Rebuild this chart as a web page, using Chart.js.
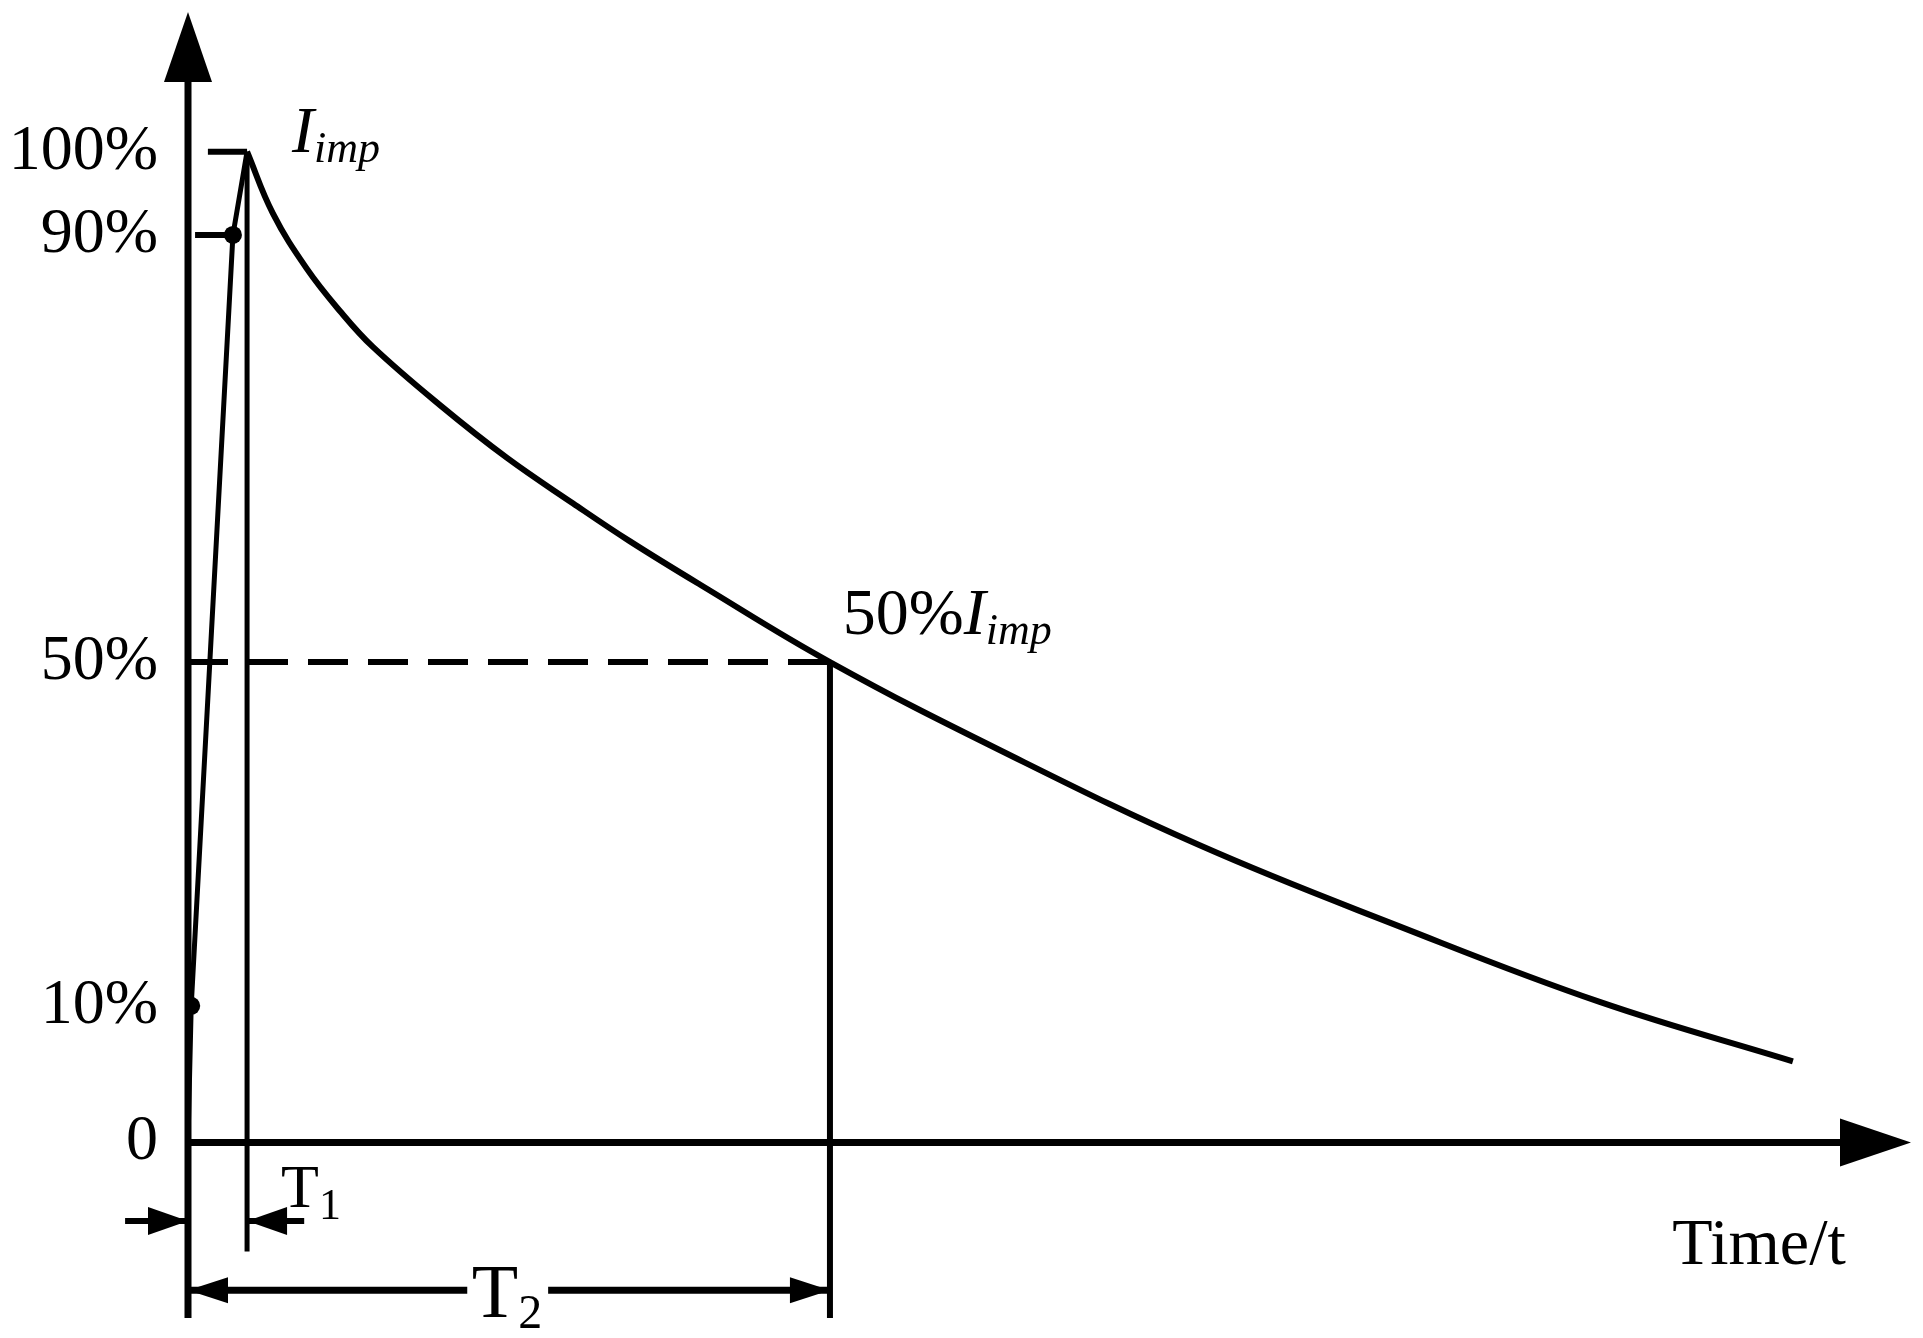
<!DOCTYPE html>
<html>
<head>
<meta charset="utf-8">
<script src="https://cdn.jsdelivr.net/npm/chart.js@4.4.1/dist/chart.umd.min.js"></script>
<style>
  html, body { margin: 0; padding: 0; background: #fff; }
  #wrap { width: 1923px; height: 1338px; position: relative; }
</style>
</head>
<body>
<div id="wrap"><canvas id="impulse"></canvas></div>
<script>
const SERIF = "'Liberation Serif', 'Times New Roman', serif";

// y tick positions as they sit in the sketch (it is not to scale) and their labels
const yTickValues = [0, 13.8, 48.5, 91.6, 100];
const yTickLabels = ["0", "10%", "50%", "90%", "100%"];

// front of the impulse: origin -> 10% -> 90% -> peak
const riseT = [0, 0.5, 7.0, 9.2];
const riseI = [0, 13.8, 91.6, 100];

// tail after the peak
const tailT = [9.2, 13.2, 18.5, 23.7, 28.8, 39.3, 49.7, 60.0, 68.8, 79.8, 100, 126.5, 157.6, 188.8, 219.9, 250.0];
const tailI = [100, 93.8, 88.2, 83.9, 80.3, 74.4, 69.1, 64.5, 60.7, 56.3, 48.5, 39.6, 30.0, 21.8, 14.2, 8.2];

// marked points on the front (10% and 90%)
const markT = [0.5, 7.0];
const markI = [13.8, 91.6];

// times and levels used by the construction lines
const T1 = 9.2;
const T2 = 100;
const halfLevel = 48.5;
const xMax = 268.4;
const yMin = -17.7;
const yMax = 114.1;
const dimT1Y = -7.9;
const dimT2Y = -14.9;

const toPts = (xs, ys) => xs.map((x, i) => ({ x: x, y: ys[i] }));

function seg(x1, y1, x2, y2, width, dash) {
  return {
    data: [{ x: x1, y: y1 }, { x: x2, y: y2 }],
    borderColor: "#000",
    borderWidth: width || 6,
    borderDash: dash || [],
    borderCapStyle: "butt",
    pointRadius: 0,
    tension: 0,
    clip: false,
  };
}

// arrow heads: tip at (x, y) in data units
const heads = [
  { x: 0, y: yMax, dir: "up", len: 70, half: 24 },
  { x: xMax, y: 0, dir: "right", len: 71, half: 24 },
  { x: 0, y: dimT1Y, dir: "right", len: 40, half: 14 },
  { x: T1, y: dimT1Y, dir: "left", len: 40, half: 14 },
  { x: 0, y: dimT2Y, dir: "left", len: 40, half: 13 },
  { x: T2, y: dimT2Y, dir: "right", len: 40, half: 13 },
];

// text notes: [text, style, size, baseline shift]
const notes = [
  { x: 16.2, y: 100, parts: [["I", "italic", 66, 0], ["imp", "italic", 44, 10]] },
  { x: 102.0, y: 51.3, parts: [["50%", "", 66, 0], ["I", "italic", 66, 0], ["imp", "italic", 44, 10]] },
  { x: 231.2, y: -12.3, parts: [["Time/t", "", 66, 0]] },
  { x: 14.5, y: -6.5, parts: [["T", "", 62, 0], ["1", "", 44, 12]] },
  { x: 44.2, y: -17.6, parts: [["T", "", 76, 0], ["2", "", 48, 11]] },
];

const sketchPlugin = {
  id: "sketch",
  afterDatasetsDraw(chart) {
    const ctx = chart.ctx;
    const xs = chart.scales.x;
    const ys = chart.scales.y;
    ctx.save();
    ctx.fillStyle = "#000";
    heads.forEach((h) => {
      const px = xs.getPixelForValue(h.x);
      const py = ys.getPixelForValue(h.y);
      ctx.beginPath();
      ctx.moveTo(px, py);
      if (h.dir === "up") {
        ctx.lineTo(px - h.half, py + h.len);
        ctx.lineTo(px + h.half, py + h.len);
      } else if (h.dir === "right") {
        ctx.lineTo(px - h.len, py - h.half);
        ctx.lineTo(px - h.len, py + h.half);
      } else {
        ctx.lineTo(px + h.len, py - h.half);
        ctx.lineTo(px + h.len, py + h.half);
      }
      ctx.closePath();
      ctx.fill();
    });
    ctx.textBaseline = "alphabetic";
    ctx.textAlign = "left";
    notes.forEach((n) => {
      let px = xs.getPixelForValue(n.x);
      const py = ys.getPixelForValue(n.y);
      n.parts.forEach((p) => {
        ctx.font = `${p[1]} ${p[2]}px ${SERIF}`;
        ctx.fillText(p[0], px, py + p[3]);
        px += ctx.measureText(p[0]).width;
      });
    });
    ctx.restore();
  },
};

const datasets = [
  seg(0, yMin, 0, yMax - 6, 7),
  seg(0, 0, xMax - 8, 0, 7),
  {
    data: toPts(riseT, riseI),
    borderColor: "#000",
    borderWidth: 5,
    pointRadius: 0,
    tension: 0,
  },
  {
    data: toPts(tailT, tailI),
    borderColor: "#000",
    borderWidth: 6,
    pointRadius: 0,
    tension: 0.4,
  },
  seg(3.1, 100, T1, 100, 6),
  seg(1.1, 91.6, 7.0, 91.6, 6),
  seg(0, halfLevel, T2, halfLevel, 6, [40, 20]),
  seg(T1, 100, T1, -11.0, 5),
  seg(T2, halfLevel, T2, yMin, 6),
  seg(-9.8, dimT1Y, 0, dimT1Y, 6),
  seg(T1, dimT1Y, 18.1, dimT1Y, 6),
  seg(0, dimT2Y, 43.5, dimT2Y, 7),
  seg(56.1, dimT2Y, T2, dimT2Y, 7),
  {
    data: toPts(markT, markI),
    showLine: false,
    pointRadius: 9,
    pointBackgroundColor: "#000",
    pointBorderWidth: 0,
  },
];

new Chart(document.getElementById("impulse").getContext("2d"), {
  type: "line",
  data: { datasets: datasets },
  options: {
    responsive: true,
    maintainAspectRatio: false,
    animation: false,
    layout: { padding: { top: 12, right: 12, bottom: 20, left: 0 } },
    plugins: { legend: { display: false }, tooltip: { enabled: false } },
    scales: {
      x: { type: "linear", min: 0, max: xMax, display: false },
      y: {
        type: "linear",
        min: yMin,
        max: yMax,
        afterFit: (scale) => {
          scale.width = 188;
          scale.paddingTop = 0;
          scale.paddingBottom = 0;
        },
        afterBuildTicks: (scale) => { scale.ticks = yTickValues.map((v) => ({ value: v })); },
        grid: { display: false, drawTicks: false },
        border: { display: false },
        ticks: {
          autoSkip: false,
          padding: 30,
          color: "#000",
          font: { family: SERIF, size: 64 },
          callback: (value, index) => yTickLabels[index],
        },
      },
    },
  },
  plugins: [sketchPlugin],
});
</script>
</body>
</html>
